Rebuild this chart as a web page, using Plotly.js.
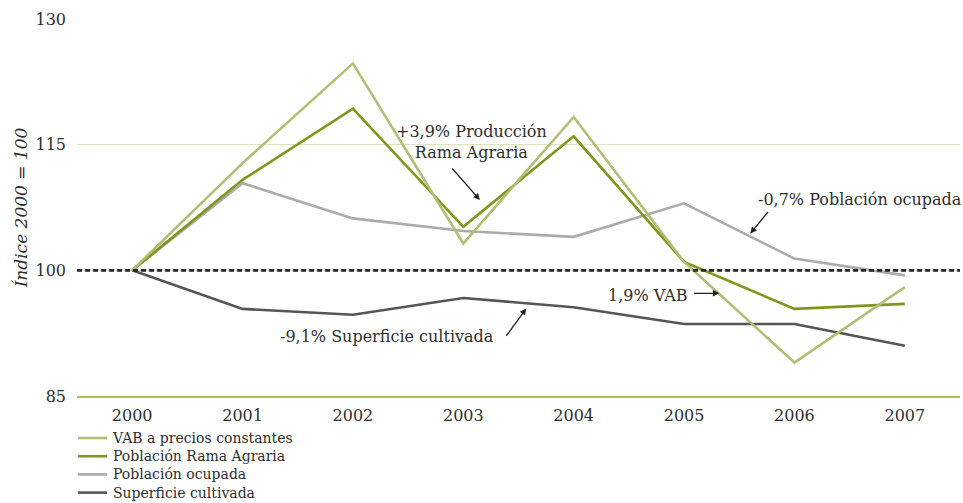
<!DOCTYPE html>
<html>
<head>
<meta charset="utf-8">
<script src="https://cdn.plot.ly/plotly-3.0.1.min.js"></script>
<style>html,body{margin:0;padding:0;background:#fff;}#chart{width:963px;height:503px;}</style>
</head>
<body>
<div id="chart"></div>
<script>
const years = ["2000","2001","2002","2003","2004","2005","2006","2007"];
const vab = [100, 112.8, 124.7, 103.2, 118.3, 101.0, 89.0, 98.0];
const poblacionRama = [100, 110.8, 119.3, 105.2, 116.0, 101.0, 95.4, 96.0];
const poblacionOcupada = [100, 110.4, 106.2, 104.7, 104.0, 108.0, 101.4, 99.4];
const superficie = [100, 95.4, 94.7, 96.7, 95.6, 93.6, 93.6, 91.0];
const seriesNames = ["VAB a precios constantes", "Población Rama Agraria", "Población ocupada", "Superficie cultivada"];
const yTicks = [85, 100, 115, 130];

const FONT = "'DejaVu Serif', 'Liberation Serif', serif";
const FS = 16;
const LFS = 14;
const colors = ["#b4bd76", "#7f961b", "#abaaad", "#555558"];
const seriesData = [vab, poblacionRama, poblacionOcupada, superficie];

const order = [3, 2, 1, 0];
const traces = order.map(idx => ({
  x: years, y: seriesData[idx], type: "scatter", mode: "lines", name: seriesNames[idx],
  line: {color: colors[idx], width: 2.6}, showlegend: false
}));

const PL = 77, PW = 883, PT = 19, PH = 377;
const px2x = px => (px - PL) / PW;
const py2y = py => (PT + PH - py) / PH;
const tf = {family: FONT, size: FS, color: "#2e2e2e"};

const shapes = [
  {type: "line", xref: "paper", x0: 0, x1: 1, yref: "y", y0: 100, y1: 100,
    line: {color: "#222", width: 2.6, dash: "5px,3px"}, layer: "above"}
];
const annotations = [
  {x: 3.07, y: 115.3, xref: "x", yref: "y", text: "+3,9% Producción<br>Rama Agraria", showarrow: false,
    font: tf, align: "center"},
  {x: 3.15, y: 108.4, xref: "x", yref: "y", text: "", showarrow: true, ax: -29, ay: -33,
    arrowhead: 2, arrowsize: 1, arrowwidth: 1.3, arrowcolor: "#222"},
  {x: 5.65, y: 108.4, xref: "x", yref: "y", text: "-0,7% Población ocupada", showarrow: false, xanchor: "left",
    font: tf},
  {x: 5.60, y: 104.4, xref: "x", yref: "y", text: "", showarrow: true, ax: 19, ay: -23,
    arrowhead: 2, arrowsize: 1, arrowwidth: 1.3, arrowcolor: "#222"},
  {x: 4.29, y: 97.0, xref: "x", yref: "y", text: "1,9% VAB", showarrow: false, xanchor: "left",
    font: tf},
  {x: 5.32, y: 97.25, xref: "x", yref: "y", text: "", showarrow: true, ax: -27, ay: 0,
    arrowhead: 2, arrowsize: 1, arrowwidth: 1.3, arrowcolor: "#222"},
  {x: 3.30, y: 92.1, xref: "x", yref: "y", text: "-9,1% Superficie cultivada", showarrow: false, xanchor: "right",
    font: tf},
  {x: 3.57, y: 95.45, xref: "x", yref: "y", text: "", showarrow: true, ax: -21, ay: 29,
    arrowhead: 2, arrowsize: 1, arrowwidth: 1.3, arrowcolor: "#222"}
];

// compact legend: one multi-line text block plus line samples
const lineGap = 1.3 * LFS;
const legendTop = 438;
seriesNames.forEach((name, i) => {
  const yc = legendTop + i * lineGap;
  shapes.push({type: "line", xref: "paper", yref: "paper",
    x0: px2x(78), x1: px2x(107), y0: py2y(yc), y1: py2y(yc),
    line: {color: colors[i], width: 2.6}});
});
annotations.push({xref: "paper", yref: "paper", x: px2x(111),
  y: py2y(legendTop + 1.5 * lineGap), xanchor: "left", yanchor: "middle", align: "left",
  text: seriesNames.join("<br>"), showarrow: false, borderpad: 0,
  font: {family: FONT, size: LFS, color: "#2e2e2e"}});

const layout = {
  width: 963, height: 503,
  margin: {l: PL, r: 963 - PL - PW, t: PT, b: 503 - PT - PH},
  paper_bgcolor: "#fff", plot_bgcolor: "#fff",
  font: tf,
  showlegend: false,
  xaxis: {type: "category", range: [-0.5, 7.5], showgrid: false, zeroline: false, automargin: false,
    showline: true, linecolor: "#b2ba6a", linewidth: 2, ticks: "", ticklabelstandoff: 4, tickfont: tf},
  yaxis: {range: [85, 130], tickvals: yTicks, ticktext: yTicks.map(String), showgrid: true, automargin: false,
    gridcolor: "#dfe2bf", gridwidth: 1.3, zeroline: false, showline: false, ticks: "", ticklabelstandoff: 10,
    tickfont: tf,
    title: {text: "<i>Índice 2000 = 100</i>", standoff: 3, font: {family: FONT, size: 17, color: "#2e2e2e"}}},
  shapes: shapes,
  annotations: annotations
};

Plotly.newPlot("chart", traces, layout, {displayModeBar: false, staticPlot: true});
</script>
</body>
</html>
